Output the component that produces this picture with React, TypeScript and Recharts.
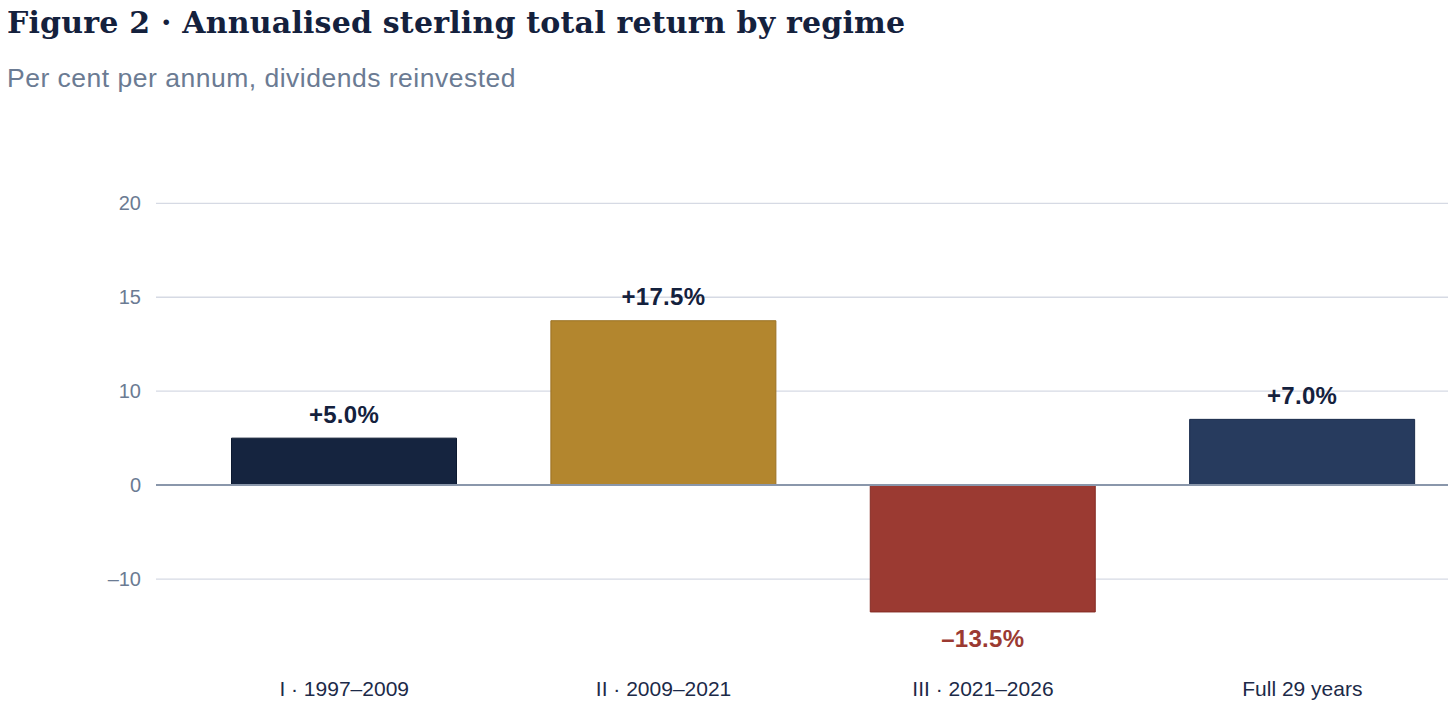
import React from "react";
import {
  BarChart,
  Bar,
  XAxis,
  YAxis,
  CartesianGrid,
  ReferenceLine,
  Cell,
  LabelList,
} from "recharts";

const categories = ["I · 1997–2009", "II · 2009–2021", "III · 2021–2026", "Full 29 years"];
const returns = [5.0, 17.5, -13.5, 7.0];
const barColors = ["#15243f", "#b3862e", "#9b3a32", "#273b5e"];
const barStrokes = ["#0c1930", "#9a7124", "#842b23", "#1a2c4c"];
const yTicks = [-10, 0, 10, 20, 30];
const yTickLabels = ["–10", "0", "10", "15", "20"];

const data = categories.map((name, i) => ({ name, value: returns[i] }));

const SANS = "'Liberation Sans', Arial, Helvetica, sans-serif";

const formatValue = (v: number) =>
  v >= 0 ? `+${v.toFixed(1)}%` : `–${Math.abs(v).toFixed(1)}%`;

const ValueLabel = (props: any) => {
  const vb = props.viewBox || {};
  const x = props.x ?? vb.x;
  const y = props.y ?? vb.y;
  const width = props.width ?? vb.width;
  const height = props.height ?? vb.height;
  const value = Number(props.value);
  const top = Math.min(y, y + height);
  const bottom = Math.max(y, y + height);
  const cx = x + width / 2;
  const cy = value >= 0 ? top - 24 : bottom + 27;
  return (
    <text
      x={cx}
      y={cy}
      textAnchor="middle"
      dominantBaseline="central"
      fontFamily={SANS}
      fontWeight={700}
      fontSize={24}
      letterSpacing={0.3}
      fill={value >= 0 ? "#14213d" : "#9b3a32"}
    >
      {formatValue(value)}
    </text>
  );
};

export default function App() {
  return (
    <div
      style={{
        position: "relative",
        width: 1448,
        height: 702,
        background: "#ffffff",
      }}
    >
      <div
        style={{
          position: "absolute",
          left: -1,
          top: 0,
          fontFamily: "'DejaVu Serif', Georgia, serif",
          fontWeight: 700,
          fontSize: 30,
          lineHeight: "30px",
          letterSpacing: 0.2,
          color: "#14213d",
          whiteSpace: "nowrap",
        }}
      >
        Figure 2 · Annualised sterling total return by regime
      </div>
      <div
        style={{
          position: "absolute",
          left: -1,
          top: 55,
          fontFamily: SANS,
          fontSize: 26.5,
          lineHeight: "30px",
          letterSpacing: 0.5,
          color: "#6b7b93",
          whiteSpace: "nowrap",
        }}
      >
        Per cent per annum, dividends reinvested
      </div>
      <div
        style={{
          position: "absolute",
          left: 0,
          top: 0,
          width: 1448,
          height: 702,
          overflow: "hidden",
        }}
      >
        <BarChart
          width={1454}
          height={705}
          data={data}
          margin={{ top: 195.3, right: 0, bottom: 0, left: 0 }}
          barSize={225}
        >
          <CartesianGrid
            vertical={false}
            horizontalValues={yTicks}
            stroke="#d6dae4"
            strokeWidth={1.3}
          />
          <XAxis
            dataKey="name"
            axisLine={false}
            tickLine={false}
            interval={0}
            height={40}
            padding={{ left: 28.5, right: 0 }}
            tick={{ fill: "#1c2a48", fontSize: 21, fontFamily: SANS }}
          />
          <YAxis
            width={148}
            domain={[-20, 30]}
            ticks={yTicks}
            interval={0}
            axisLine={false}
            tickLine={false}
            tickMargin={9}
            tickFormatter={(v: number) => yTickLabels[yTicks.indexOf(v)]}
            tick={{ fill: "#6b7b93", fontSize: 20, fontFamily: SANS }}
          />
          <ReferenceLine y={0} stroke="#8a97ab" strokeWidth={2} />
          <Bar dataKey="value" isAnimationActive={false} strokeWidth={1}>
            {data.map((d, i) => (
              <Cell key={d.name} fill={barColors[i]} stroke={barStrokes[i]} />
            ))}
            <LabelList dataKey="value" content={ValueLabel} />
          </Bar>
        </BarChart>
      </div>
    </div>
  );
}
